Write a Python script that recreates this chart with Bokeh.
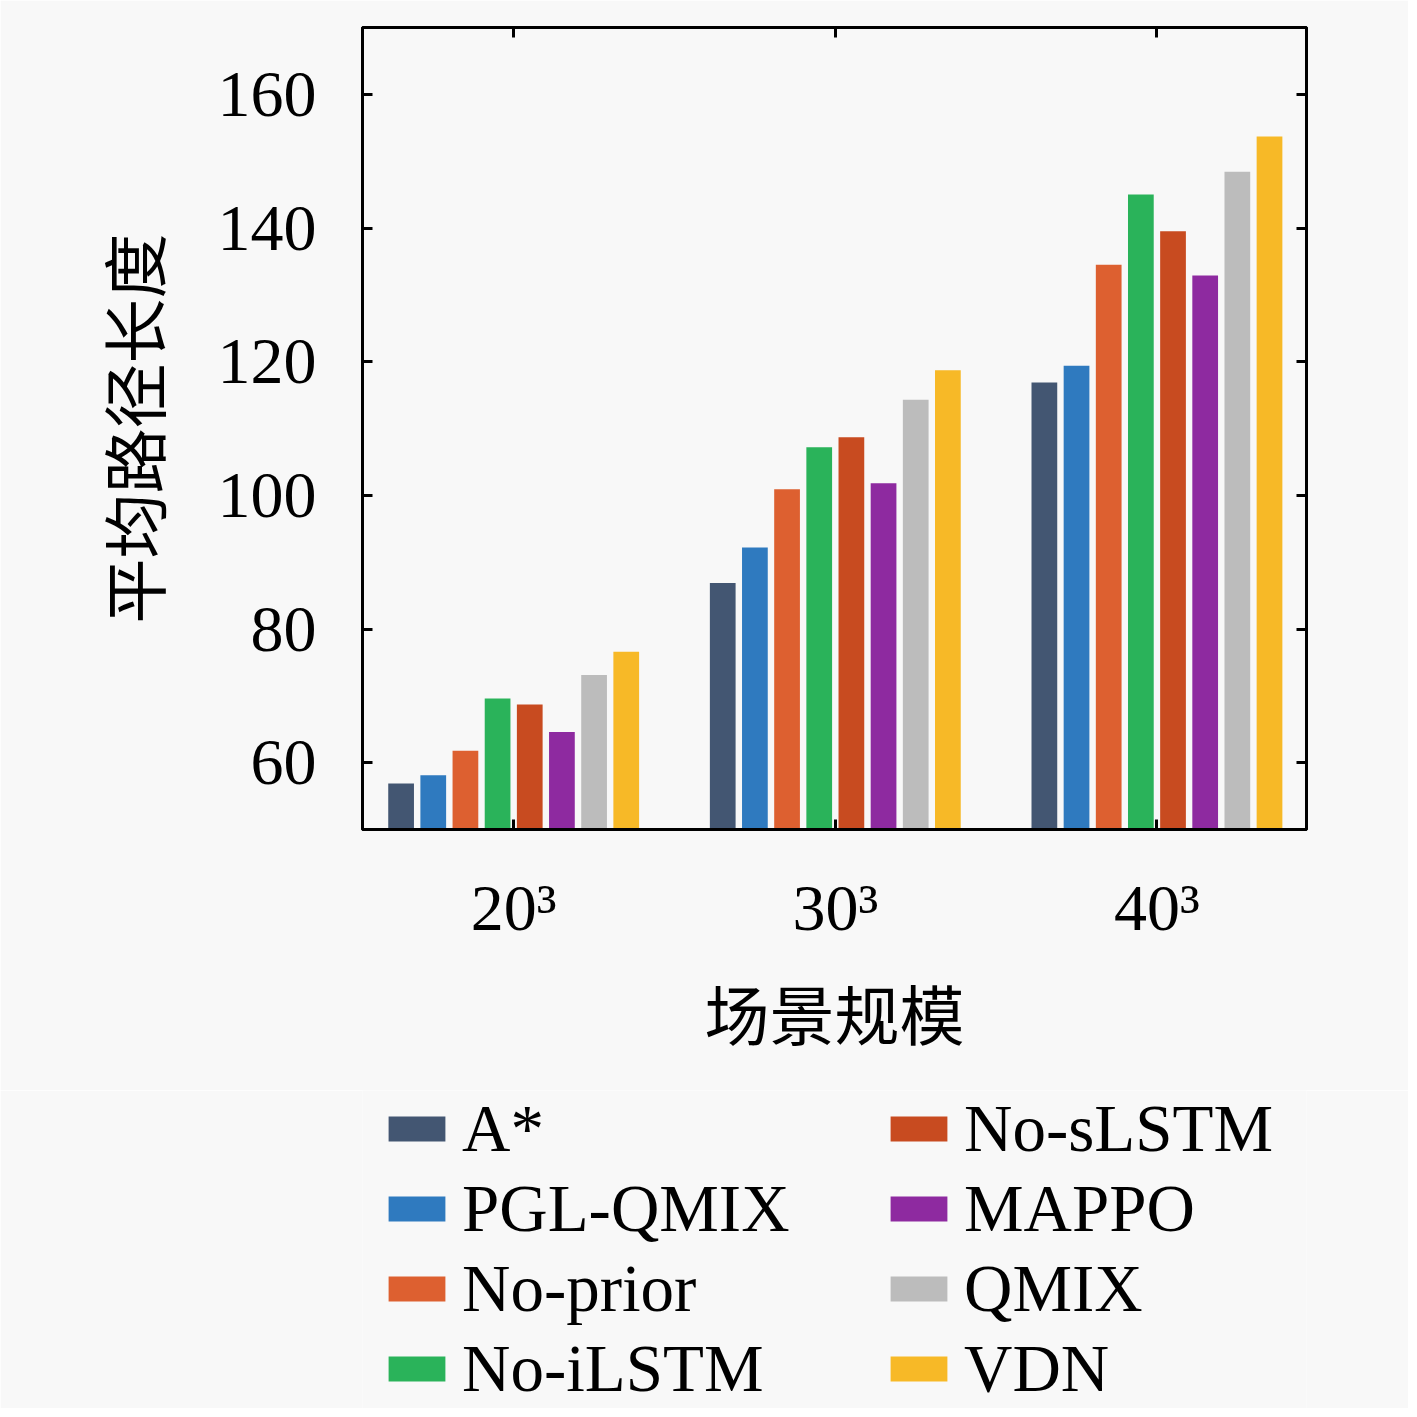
from bokeh.plotting import figure
from bokeh.models import Range1d, FixedTicker, LinearAxis, Legend, LegendItem, ColumnDataSource
from bokeh.layouts import column
from bokeh.embed import file_html
from bokeh.resources import INLINE
import numpy as np

scales = ["20³", "30³", "40³"]
methods = ["A*", "PGL-QMIX", "No-prior", "No-iLSTM", "No-sLSTM", "MAPPO", "QMIX", "VDN"]
colors = ["#435672", "#2f7abf", "#dd6030", "#2ab35a", "#c84b20", "#8e2aa0", "#bcbcbc", "#f7b927"]

a_star = [56.9, 86.9, 116.9]
pgl_qmix = [58.1, 92.2, 119.4]
no_prior = [61.8, 100.9, 134.5]
no_ilstm = [69.6, 107.2, 145.0]
no_slstm = [68.7, 108.7, 139.5]
mappo = [64.6, 101.8, 132.9]
qmix = [73.1, 114.3, 148.4]
vdn = [76.6, 118.7, 153.7]
series = [a_star, pgl_qmix, no_prior, no_ilstm, no_slstm, mappo, qmix, vdn]

y_ticks = [60, 80, 100, 120, 140, 160]

SERIF = "Liberation Serif"
CJK = "Noto Sans CJK SC"
BG = "#f8f8f8"

p = figure(width=1408, height=1090, output_backend="svg", toolbar_location=None,
           x_range=Range1d(0.53, 3.465), y_range=Range1d(50, 170),
           min_border_left=362, min_border_right=102, min_border_top=27, min_border_bottom=261,
           background_fill_color=BG, border_fill_color=BG)
p.grid.visible = False
p.outline_line_color = "black"
p.outline_line_width = 3

group_x = np.arange(1, len(scales) + 1)
n = len(methods)
bar_step = 0.1
bar_w = 0.08
sources = []
for i, (name, vals, col) in enumerate(zip(methods, series, colors)):
    off = (i - (n - 1) / 2) * bar_step
    src = ColumnDataSource(dict(x=group_x + off, top=vals))
    sources.append(src)
    p.vbar(x="x", top="top", bottom=50, width=bar_w, source=src,
           fill_color=col, line_color=None)

# bottom axis
xa = p.xaxis[0]
xa.ticker = FixedTicker(ticks=list(group_x))
xa.major_label_overrides = {int(g): s for g, s in zip(group_x, scales)}
xa.axis_label = "场景规模"
# left axis
ya = p.yaxis[0]
ya.ticker = FixedTicker(ticks=y_ticks)
ya.axis_label = "平均路径长度"

for ax in (xa, ya):
    ax.axis_line_width = 3
    ax.major_tick_in = 10
    ax.major_tick_out = 0
    ax.major_tick_line_width = 3
    ax.minor_tick_line_color = None
    ax.major_label_text_font = SERIF
    ax.major_label_text_font_size = "66px"
    ax.major_label_text_color = "black"
    ax.axis_label_text_font = CJK
    ax.axis_label_text_font_size = "65px"
    ax.axis_label_text_font_style = "normal"
    ax.axis_label_text_color = "black"

xa.major_label_standoff = 41
xa.axis_label_standoff = 18
ya.major_label_standoff = 46
ya.axis_label_standoff = 36

ra = LinearAxis(ticker=FixedTicker(ticks=y_ticks))
ta = LinearAxis(ticker=FixedTicker(ticks=list(group_x)))
for ax in (ra, ta):
    ax.axis_line_width = 3
    ax.major_tick_in = 10
    ax.major_tick_out = 0
    ax.major_tick_line_width = 3
    ax.minor_tick_line_color = None
    ax.major_label_text_font_size = "0px"
    ax.major_label_text_color = None
    ax.major_label_standoff = 0
p.add_layout(ra, "right")
p.add_layout(ta, "above")

# legend panel below the chart (its frame is aligned with the chart's frame)
p2 = figure(width=1408, height=318, output_backend="svg", toolbar_location=None,
            x_range=Range1d(0.53, 3.465), y_range=Range1d(0, 200),
            x_axis_type=None, y_axis_type=None,
            min_border=0, background_fill_color=BG, border_fill_color=BG)
p2.grid.visible = False
p2.outline_line_color = None
# zero-height proxies of the same series, only used for the legend swatches
leg_renderers = [p2.vbar(x="x", top="top", bottom="top", width=bar_w, source=s,
                         fill_color=c, line_color=None)
                 for s, c in zip(sources, colors)]

def make_legend(idx, x, y):
    items = [LegendItem(label=methods[i], renderers=[leg_renderers[i]]) for i in idx]
    lg = Legend(items=items, location=(x, y), orientation="vertical")
    lg.label_text_font = SERIF
    lg.label_text_font_size = "67px"
    lg.label_text_color = "black"
    lg.glyph_width = 71
    lg.glyph_height = 31
    lg.label_standoff = 10
    lg.label_height = 74
    lg.spacing = 3
    lg.padding = 0
    lg.margin = 0
    lg.border_line_color = None
    lg.background_fill_alpha = 0
    return lg

p2.add_layout(make_legend([0, 1, 2, 3], 19, 1))
p2.add_layout(make_legend([4, 5, 6, 7], 521, 1))

layout = column(p, p2, spacing=0)
open("out.html", "w").write(file_html(layout, INLINE))
